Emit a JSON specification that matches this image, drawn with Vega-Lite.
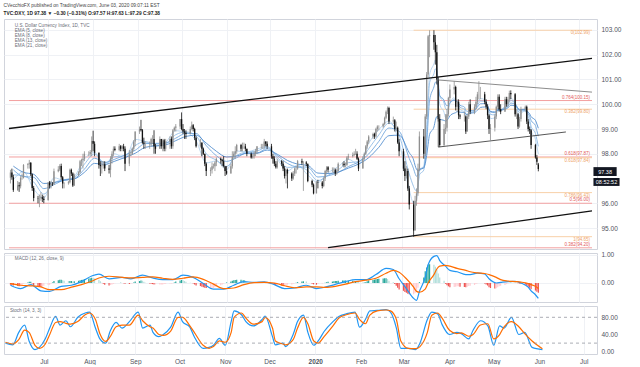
{
"$schema":"https://vega.github.io/schema/vega-lite/v6.json",
"background":"#ffffff",
"padding":{"left":2,"top":2,"right":0,"bottom":0},
"spacing":1,
"config":{"font":"Liberation Sans","view":{"stroke":"#d1d4dc","strokeWidth":1},
"axis":{"labelFont":"Liberation Sans","labelFontSize":6.5,"labelColor":"#50535e","gridColor":"#eff1f5","gridWidth":1,"domainColor":"#b2b5be","labelOverlap":false}},
"title":{"text":"CVecchioFX published on TradingView.com, June 03, 2020 09:07:11 EST","subtitle":"TVC:DXY, 1D  97.38 ▼ −0.30 (−0.31%)  O:97.57  H:97.63  L:97.29  C:97.38","anchor":"start","frame":"bounds","font":"Liberation Sans","fontSize":4.8,"fontWeight":"normal","color":"#444444","subtitleFont":"Liberation Sans","subtitleFontSize":4.8,"subtitleFontWeight":"bold","subtitleColor":"#222222","subtitlePadding":3,"offset":3,"dx":1},
"datasets":{
"px":[
{"d":"2019-06-05","o":97.03,"h":97.35,"l":96.8,"c":97.24,"g":-0.06},
{"d":"2019-06-06","o":97.24,"h":97.4,"l":96.95,"c":97.05,"g":-0.07},
{"d":"2019-06-07","o":97.05,"h":97.15,"l":96.46,"c":96.54,"g":-0.09},
{"d":"2019-06-10","o":96.54,"h":96.9,"l":96.5,"c":96.73,"g":-0.11},
{"d":"2019-06-11","o":96.73,"h":96.85,"l":96.46,"c":96.69,"g":-0.12},
{"d":"2019-06-12","o":96.69,"h":97.1,"l":96.6,"c":97.03,"g":-0.12},
{"d":"2019-06-13","o":97.03,"h":97.2,"l":96.95,"c":97.03,"g":-0.08},
{"d":"2019-06-14","o":97.03,"h":97.58,"l":97.0,"c":97.55,"g":-0.02},
{"d":"2019-06-17","o":97.55,"h":97.62,"l":97.4,"c":97.58,"g":0.02},
{"d":"2019-06-18","o":97.58,"h":97.75,"l":97.4,"c":97.64,"g":0.04},
{"d":"2019-06-19","o":97.64,"h":97.66,"l":97.1,"c":97.17,"g":0.04},
{"d":"2019-06-20","o":97.17,"h":97.2,"l":96.5,"c":96.62,"g":-0.02},
{"d":"2019-06-21","o":96.62,"h":96.7,"l":96.08,"c":96.21,"g":-0.07},
{"d":"2019-06-24","o":96.21,"h":96.3,"l":96.0,"c":96.2,"g":-0.11},
{"d":"2019-06-25","o":96.2,"h":96.35,"l":95.84,"c":96.2,"g":-0.13},
{"d":"2019-06-26","o":96.2,"h":96.45,"l":96.1,"c":96.24,"g":-0.14},
{"d":"2019-06-27","o":96.24,"h":96.35,"l":96.05,"c":96.18,"g":-0.12},
{"d":"2019-06-28","o":96.18,"h":96.3,"l":96.0,"c":96.13,"g":-0.1},
{"d":"2019-07-01","o":96.13,"h":96.85,"l":96.1,"c":96.84,"g":-0.07},
{"d":"2019-07-02","o":96.84,"h":96.9,"l":96.6,"c":96.72,"g":-0.06},
{"d":"2019-07-03","o":96.72,"h":96.9,"l":96.6,"c":96.78,"g":-0.02},
{"d":"2019-07-04","o":96.78,"h":96.85,"l":96.7,"c":96.77,"g":0.02},
{"d":"2019-07-05","o":96.77,"h":97.4,"l":96.75,"c":97.29,"g":0.07},
{"d":"2019-07-08","o":97.29,"h":97.5,"l":97.25,"c":97.36,"g":0.1},
{"d":"2019-07-09","o":97.36,"h":97.58,"l":97.3,"c":97.51,"g":0.12},
{"d":"2019-07-10","o":97.51,"h":97.6,"l":96.95,"c":97.05,"g":0.12},
{"d":"2019-07-11","o":97.05,"h":97.1,"l":96.6,"c":96.8,"g":0.1},
{"d":"2019-07-12","o":96.8,"h":96.85,"l":96.6,"c":96.81,"g":0.08},
{"d":"2019-07-15","o":96.81,"h":96.9,"l":96.75,"c":96.85,"g":0.07},
{"d":"2019-07-16","o":96.85,"h":97.4,"l":96.8,"c":97.35,"g":0.07},
{"d":"2019-07-17","o":97.35,"h":97.4,"l":97.1,"c":97.2,"g":0.07},
{"d":"2019-07-18","o":97.2,"h":97.25,"l":96.66,"c":96.72,"g":0.05},
{"d":"2019-07-19","o":96.72,"h":97.2,"l":96.7,"c":97.15,"g":0.06},
{"d":"2019-07-22","o":97.15,"h":97.3,"l":97.1,"c":97.25,"g":0.08},
{"d":"2019-07-23","o":97.25,"h":97.75,"l":97.2,"c":97.7,"g":0.1},
{"d":"2019-07-24","o":97.7,"h":97.8,"l":97.5,"c":97.75,"g":0.11},
{"d":"2019-07-25","o":97.75,"h":98.0,"l":97.4,"c":97.8,"g":0.12},
{"d":"2019-07-26","o":97.8,"h":98.1,"l":97.7,"c":98.0,"g":0.14},
{"d":"2019-07-29","o":98.0,"h":98.1,"l":97.9,"c":98.0,"g":0.16},
{"d":"2019-07-30","o":98.0,"h":98.15,"l":97.9,"c":98.07,"g":0.17},
{"d":"2019-07-31","o":98.07,"h":98.7,"l":97.9,"c":98.52,"g":0.19},
{"d":"2019-08-01","o":98.52,"h":98.93,"l":98.1,"c":98.4,"g":0.18},
{"d":"2019-08-02","o":98.4,"h":98.5,"l":97.9,"c":98.04,"g":0.16},
{"d":"2019-08-05","o":98.04,"h":98.05,"l":97.4,"c":97.55,"g":0.12},
{"d":"2019-08-06","o":97.55,"h":97.7,"l":97.1,"c":97.5,"g":0.06},
{"d":"2019-08-07","o":97.5,"h":97.7,"l":97.2,"c":97.53,"g":0.01},
{"d":"2019-08-08","o":97.53,"h":97.7,"l":97.4,"c":97.58,"g":-0.03},
{"d":"2019-08-09","o":97.58,"h":97.7,"l":97.3,"c":97.4,"g":-0.06},
{"d":"2019-08-12","o":97.4,"h":97.55,"l":97.2,"c":97.35,"g":-0.09},
{"d":"2019-08-13","o":97.35,"h":97.9,"l":97.05,"c":97.8,"g":-0.07},
{"d":"2019-08-14","o":97.8,"h":98.1,"l":97.6,"c":98.0,"g":-0.05},
{"d":"2019-08-15","o":98.0,"h":98.3,"l":97.9,"c":98.2,"g":-0.03},
{"d":"2019-08-16","o":98.2,"h":98.3,"l":98.1,"c":98.15,"g":-0.01},
{"d":"2019-08-19","o":98.15,"h":98.4,"l":98.1,"c":98.3,"g":0.0},
{"d":"2019-08-20","o":98.3,"h":98.35,"l":98.1,"c":98.2,"g":0.01},
{"d":"2019-08-21","o":98.2,"h":98.35,"l":98.1,"c":98.3,"g":0.0},
{"d":"2019-08-22","o":98.3,"h":98.4,"l":98.1,"c":98.2,"g":-0.01},
{"d":"2019-08-23","o":98.2,"h":98.3,"l":97.3,"c":97.6,"g":-0.03},
{"d":"2019-08-26","o":97.6,"h":98.15,"l":97.5,"c":98.0,"g":-0.04},
{"d":"2019-08-27","o":98.0,"h":98.1,"l":97.9,"c":98.0,"g":-0.03},
{"d":"2019-08-28","o":98.0,"h":98.25,"l":97.95,"c":98.2,"g":-0.01},
{"d":"2019-08-29","o":98.2,"h":98.55,"l":98.1,"c":98.5,"g":0.02},
{"d":"2019-08-30","o":98.5,"h":98.9,"l":98.3,"c":98.9,"g":0.05},
{"d":"2019-09-02","o":98.9,"h":99.1,"l":98.8,"c":99.0,"g":0.07},
{"d":"2019-09-03","o":99.0,"h":99.37,"l":98.9,"c":98.95,"g":0.09},
{"d":"2019-09-04","o":98.95,"h":99.0,"l":98.4,"c":98.45,"g":0.08},
{"d":"2019-09-05","o":98.45,"h":98.65,"l":98.2,"c":98.4,"g":0.04},
{"d":"2019-09-06","o":98.4,"h":98.5,"l":98.2,"c":98.4,"g":0.01},
{"d":"2019-09-09","o":98.4,"h":98.5,"l":98.2,"c":98.4,"g":-0.02},
{"d":"2019-09-10","o":98.4,"h":98.65,"l":98.3,"c":98.6,"g":-0.03},
{"d":"2019-09-11","o":98.6,"h":98.75,"l":98.4,"c":98.6,"g":-0.04},
{"d":"2019-09-12","o":98.6,"h":98.95,"l":98.0,"c":98.3,"g":-0.05},
{"d":"2019-09-13","o":98.3,"h":98.4,"l":98.0,"c":98.2,"g":-0.05},
{"d":"2019-09-16","o":98.2,"h":98.7,"l":98.2,"c":98.6,"g":-0.05},
{"d":"2019-09-17","o":98.6,"h":98.6,"l":98.2,"c":98.3,"g":-0.05},
{"d":"2019-09-18","o":98.3,"h":98.6,"l":98.1,"c":98.55,"g":-0.05},
{"d":"2019-09-19","o":98.55,"h":98.6,"l":98.1,"c":98.2,"g":-0.04},
{"d":"2019-09-20","o":98.2,"h":98.6,"l":98.1,"c":98.5,"g":-0.03},
{"d":"2019-09-23","o":98.5,"h":98.7,"l":98.2,"c":98.6,"g":-0.02},
{"d":"2019-09-24","o":98.6,"h":98.7,"l":98.2,"c":98.3,"g":-0.02},
{"d":"2019-09-25","o":98.3,"h":99.0,"l":98.2,"c":98.95,"g":-0.01},
{"d":"2019-09-26","o":98.95,"h":99.1,"l":98.9,"c":99.05,"g":0.02},
{"d":"2019-09-27","o":99.05,"h":99.2,"l":98.9,"c":99.1,"g":0.05},
{"d":"2019-09-30","o":99.1,"h":99.4,"l":99.0,"c":99.4,"g":0.09},
{"d":"2019-10-01","o":99.4,"h":99.67,"l":98.95,"c":99.0,"g":0.11},
{"d":"2019-10-02","o":99.0,"h":99.2,"l":98.8,"c":98.9,"g":0.1},
{"d":"2019-10-03","o":98.9,"h":99.0,"l":98.6,"c":98.85,"g":0.07},
{"d":"2019-10-04","o":98.85,"h":98.95,"l":98.6,"c":98.8,"g":0.04},
{"d":"2019-10-07","o":98.8,"h":99.1,"l":98.8,"c":99.0,"g":0.01},
{"d":"2019-10-08","o":99.0,"h":99.3,"l":98.95,"c":99.15,"g":0.0},
{"d":"2019-10-09","o":99.15,"h":99.2,"l":98.9,"c":99.0,"g":-0.02},
{"d":"2019-10-10","o":99.0,"h":99.05,"l":98.55,"c":98.65,"g":-0.05},
{"d":"2019-10-11","o":98.65,"h":98.7,"l":98.25,"c":98.3,"g":-0.09},
{"d":"2019-10-14","o":98.3,"h":98.6,"l":98.25,"c":98.45,"g":-0.11},
{"d":"2019-10-15","o":98.45,"h":98.45,"l":97.9,"c":98.2,"g":-0.13},
{"d":"2019-10-16","o":98.2,"h":98.25,"l":97.95,"c":98.0,"g":-0.15},
{"d":"2019-10-17","o":98.0,"h":98.0,"l":97.5,"c":97.6,"g":-0.17},
{"d":"2019-10-18","o":97.6,"h":97.65,"l":97.1,"c":97.3,"g":-0.18},
{"d":"2019-10-21","o":97.3,"h":97.45,"l":97.1,"c":97.35,"g":-0.18},
{"d":"2019-10-22","o":97.35,"h":97.65,"l":97.2,"c":97.5,"g":-0.18},
{"d":"2019-10-23","o":97.5,"h":97.6,"l":97.4,"c":97.5,"g":-0.18},
{"d":"2019-10-24","o":97.5,"h":97.7,"l":97.3,"c":97.65,"g":-0.15},
{"d":"2019-10-25","o":97.65,"h":97.85,"l":97.5,"c":97.8,"g":-0.12},
{"d":"2019-10-28","o":97.8,"h":97.85,"l":97.6,"c":97.75,"g":-0.08},
{"d":"2019-10-29","o":97.75,"h":97.8,"l":97.5,"c":97.7,"g":-0.05},
{"d":"2019-10-30","o":97.7,"h":97.9,"l":97.45,"c":97.5,"g":-0.02},
{"d":"2019-10-31","o":97.5,"h":97.5,"l":97.1,"c":97.3,"g":0.0},
{"d":"2019-11-01","o":97.3,"h":97.5,"l":97.15,"c":97.2,"g":0.02},
{"d":"2019-11-04","o":97.2,"h":97.6,"l":97.2,"c":97.5,"g":0.05},
{"d":"2019-11-05","o":97.5,"h":98.1,"l":97.4,"c":97.9,"g":0.08},
{"d":"2019-11-06","o":97.9,"h":98.1,"l":97.8,"c":98.0,"g":0.1},
{"d":"2019-11-07","o":98.0,"h":98.3,"l":97.8,"c":98.1,"g":0.11},
{"d":"2019-11-08","o":98.1,"h":98.4,"l":98.0,"c":98.35,"g":0.12},
{"d":"2019-11-11","o":98.35,"h":98.4,"l":98.1,"c":98.2,"g":0.12},
{"d":"2019-11-12","o":98.2,"h":98.45,"l":98.1,"c":98.3,"g":0.11},
{"d":"2019-11-13","o":98.3,"h":98.45,"l":98.2,"c":98.3,"g":0.11},
{"d":"2019-11-14","o":98.3,"h":98.4,"l":98.1,"c":98.2,"g":0.08},
{"d":"2019-11-15","o":98.2,"h":98.2,"l":97.9,"c":98.0,"g":0.05},
{"d":"2019-11-18","o":98.0,"h":98.05,"l":97.8,"c":97.85,"g":0.02},
{"d":"2019-11-19","o":97.85,"h":98.0,"l":97.8,"c":97.9,"g":0.01},
{"d":"2019-11-20","o":97.9,"h":98.1,"l":97.8,"c":98.0,"g":0.01},
{"d":"2019-11-21","o":98.0,"h":98.2,"l":97.9,"c":98.1,"g":0.01},
{"d":"2019-11-22","o":98.1,"h":98.3,"l":98.0,"c":98.3,"g":0.02},
{"d":"2019-11-25","o":98.3,"h":98.4,"l":98.2,"c":98.3,"g":0.02},
{"d":"2019-11-26","o":98.3,"h":98.4,"l":98.2,"c":98.3,"g":0.02},
{"d":"2019-11-27","o":98.3,"h":98.6,"l":98.2,"c":98.5,"g":0.02},
{"d":"2019-11-28","o":98.5,"h":98.5,"l":98.3,"c":98.4,"g":0.02},
{"d":"2019-11-29","o":98.4,"h":98.5,"l":98.2,"c":98.3,"g":0.01},
{"d":"2019-12-02","o":98.3,"h":98.4,"l":97.8,"c":97.9,"g":-0.02},
{"d":"2019-12-03","o":97.9,"h":98.0,"l":97.6,"c":97.8,"g":-0.04},
{"d":"2019-12-04","o":97.8,"h":97.9,"l":97.5,"c":97.6,"g":-0.06},
{"d":"2019-12-05","o":97.6,"h":97.7,"l":97.4,"c":97.45,"g":-0.08},
{"d":"2019-12-06","o":97.45,"h":97.8,"l":97.4,"c":97.7,"g":-0.08},
{"d":"2019-12-09","o":97.7,"h":97.75,"l":97.5,"c":97.6,"g":-0.09},
{"d":"2019-12-10","o":97.6,"h":97.7,"l":97.3,"c":97.4,"g":-0.1},
{"d":"2019-12-11","o":97.4,"h":97.5,"l":97.0,"c":97.1,"g":-0.1},
{"d":"2019-12-12","o":97.1,"h":97.4,"l":96.8,"c":97.35,"g":-0.08},
{"d":"2019-12-13","o":97.35,"h":97.4,"l":96.6,"c":97.2,"g":-0.06},
{"d":"2019-12-16","o":97.2,"h":97.25,"l":96.9,"c":97.0,"g":-0.05},
{"d":"2019-12-17","o":97.0,"h":97.3,"l":96.95,"c":97.2,"g":-0.03},
{"d":"2019-12-18","o":97.2,"h":97.45,"l":97.1,"c":97.4,"g":-0.01},
{"d":"2019-12-19","o":97.4,"h":97.5,"l":97.2,"c":97.4,"g":0.01},
{"d":"2019-12-20","o":97.4,"h":97.75,"l":97.35,"c":97.7,"g":0.03},
{"d":"2019-12-23","o":97.7,"h":97.8,"l":97.55,"c":97.65,"g":0.05},
{"d":"2019-12-24","o":97.65,"h":97.7,"l":96.5,"c":97.65,"g":0.06},
{"d":"2019-12-26","o":97.65,"h":97.7,"l":97.5,"c":97.6,"g":0.05},
{"d":"2019-12-27","o":97.6,"h":97.6,"l":96.85,"c":96.9,"g":0.0},
{"d":"2019-12-30","o":96.9,"h":96.95,"l":96.65,"c":96.75,"g":-0.03},
{"d":"2019-12-31","o":96.75,"h":96.8,"l":96.36,"c":96.4,"g":-0.05},
{"d":"2020-01-02","o":96.4,"h":96.9,"l":96.4,"c":96.85,"g":-0.06},
{"d":"2020-01-03","o":96.85,"h":96.95,"l":96.6,"c":96.84,"g":-0.04},
{"d":"2020-01-06","o":96.84,"h":96.9,"l":96.6,"c":96.7,"g":-0.02},
{"d":"2020-01-07","o":96.7,"h":97.05,"l":96.65,"c":97.0,"g":0.0},
{"d":"2020-01-08","o":97.0,"h":97.35,"l":96.9,"c":97.3,"g":0.01},
{"d":"2020-01-09","o":97.3,"h":97.5,"l":97.2,"c":97.45,"g":0.03},
{"d":"2020-01-10","o":97.45,"h":97.5,"l":97.25,"c":97.35,"g":0.04},
{"d":"2020-01-13","o":97.35,"h":97.45,"l":97.25,"c":97.35,"g":0.05},
{"d":"2020-01-14","o":97.35,"h":97.45,"l":97.2,"c":97.35,"g":0.06},
{"d":"2020-01-15","o":97.35,"h":97.4,"l":97.1,"c":97.2,"g":0.07},
{"d":"2020-01-16","o":97.2,"h":97.4,"l":97.15,"c":97.3,"g":0.07},
{"d":"2020-01-17","o":97.3,"h":97.65,"l":97.25,"c":97.6,"g":0.08},
{"d":"2020-01-20","o":97.6,"h":97.65,"l":97.5,"c":97.6,"g":0.09},
{"d":"2020-01-21","o":97.6,"h":97.7,"l":97.45,"c":97.55,"g":0.09},
{"d":"2020-01-22","o":97.55,"h":97.65,"l":97.45,"c":97.55,"g":0.09},
{"d":"2020-01-23","o":97.55,"h":97.9,"l":97.5,"c":97.85,"g":0.08},
{"d":"2020-01-24","o":97.85,"h":98.0,"l":97.75,"c":97.9,"g":0.08},
{"d":"2020-01-27","o":97.9,"h":98.05,"l":97.85,"c":97.95,"g":0.08},
{"d":"2020-01-28","o":97.95,"h":98.1,"l":97.9,"c":98.0,"g":0.07},
{"d":"2020-01-29","o":98.0,"h":98.2,"l":97.95,"c":98.0,"g":0.07},
{"d":"2020-01-30","o":98.0,"h":98.1,"l":97.75,"c":97.8,"g":0.05},
{"d":"2020-01-31","o":97.8,"h":97.85,"l":97.3,"c":97.4,"g":0.03},
{"d":"2020-02-03","o":97.4,"h":97.9,"l":97.4,"c":97.8,"g":0.02},
{"d":"2020-02-04","o":97.8,"h":98.05,"l":97.75,"c":98.0,"g":0.02},
{"d":"2020-02-05","o":98.0,"h":98.35,"l":97.95,"c":98.3,"g":0.03},
{"d":"2020-02-06","o":98.3,"h":98.55,"l":98.2,"c":98.5,"g":0.06},
{"d":"2020-02-07","o":98.5,"h":98.75,"l":98.4,"c":98.7,"g":0.09},
{"d":"2020-02-10","o":98.7,"h":98.85,"l":98.6,"c":98.8,"g":0.11},
{"d":"2020-02-11","o":98.8,"h":98.85,"l":98.6,"c":98.7,"g":0.12},
{"d":"2020-02-12","o":98.7,"h":99.05,"l":98.65,"c":99.0,"g":0.13},
{"d":"2020-02-13","o":99.0,"h":99.15,"l":98.9,"c":99.1,"g":0.14},
{"d":"2020-02-14","o":99.1,"h":99.15,"l":98.95,"c":99.1,"g":0.15},
{"d":"2020-02-17","o":99.1,"h":99.25,"l":99.05,"c":99.2,"g":0.16},
{"d":"2020-02-18","o":99.2,"h":99.5,"l":99.15,"c":99.45,"g":0.17},
{"d":"2020-02-19","o":99.45,"h":99.75,"l":99.4,"c":99.7,"g":0.17},
{"d":"2020-02-20","o":99.7,"h":99.91,"l":99.6,"c":99.85,"g":0.14},
{"d":"2020-02-21","o":99.85,"h":99.9,"l":99.2,"c":99.3,"g":0.08},
{"d":"2020-02-24","o":99.3,"h":99.5,"l":99.2,"c":99.35,"g":0.03},
{"d":"2020-02-25","o":99.35,"h":99.4,"l":98.9,"c":99.0,"g":-0.04},
{"d":"2020-02-26","o":99.0,"h":99.3,"l":98.9,"c":99.05,"g":-0.1},
{"d":"2020-02-27","o":99.05,"h":99.1,"l":98.4,"c":98.45,"g":-0.17},
{"d":"2020-02-28","o":98.45,"h":98.6,"l":97.9,"c":98.1,"g":-0.23},
{"d":"2020-03-02","o":98.1,"h":98.2,"l":97.3,"c":97.4,"g":-0.28},
{"d":"2020-03-03","o":97.4,"h":97.7,"l":96.9,"c":97.1,"g":-0.32},
{"d":"2020-03-04","o":97.1,"h":97.5,"l":97.0,"c":97.3,"g":-0.35},
{"d":"2020-03-05","o":97.3,"h":97.4,"l":96.5,"c":96.6,"g":-0.38},
{"d":"2020-03-06","o":96.6,"h":96.7,"l":95.75,"c":95.95,"g":-0.4},
{"d":"2020-03-09","o":95.95,"h":96.1,"l":94.65,"c":94.9,"g":-0.4},
{"d":"2020-03-10","o":94.9,"h":96.3,"l":94.9,"c":96.1,"g":-0.36},
{"d":"2020-03-11","o":96.1,"h":96.6,"l":95.9,"c":96.4,"g":-0.32},
{"d":"2020-03-12","o":96.4,"h":97.6,"l":96.3,"c":97.4,"g":-0.17},
{"d":"2020-03-13","o":97.4,"h":98.9,"l":97.3,"c":98.7,"g":0.03},
{"d":"2020-03-16","o":98.7,"h":99.0,"l":97.8,"c":98.0,"g":0.2},
{"d":"2020-03-17","o":98.0,"h":99.6,"l":97.9,"c":99.5,"g":0.42},
{"d":"2020-03-18","o":99.5,"h":101.3,"l":99.4,"c":101.2,"g":0.55},
{"d":"2020-03-19","o":101.2,"h":102.8,"l":101.1,"c":102.75,"g":0.65},
{"d":"2020-03-20","o":102.75,"h":102.99,"l":101.9,"c":102.8,"g":0.67},
{"d":"2020-03-23","o":102.8,"h":102.99,"l":102.2,"c":102.5,"g":0.65},
{"d":"2020-03-24","o":102.5,"h":102.8,"l":101.6,"c":102.1,"g":0.58},
{"d":"2020-03-25","o":102.1,"h":102.4,"l":100.8,"c":101.0,"g":0.48},
{"d":"2020-03-26","o":101.0,"h":101.1,"l":99.3,"c":99.4,"g":0.34},
{"d":"2020-03-27","o":99.4,"h":99.6,"l":98.27,"c":98.35,"g":0.2},
{"d":"2020-03-30","o":98.35,"h":99.2,"l":98.3,"c":99.0,"g":0.08},
{"d":"2020-03-31","o":99.0,"h":99.6,"l":98.8,"c":99.05,"g":-0.03},
{"d":"2020-04-01","o":99.05,"h":99.8,"l":98.9,"c":99.6,"g":-0.08},
{"d":"2020-04-02","o":99.6,"h":100.3,"l":99.5,"c":100.25,"g":-0.12},
{"d":"2020-04-03","o":100.25,"h":100.8,"l":100.1,"c":100.6,"g":-0.15},
{"d":"2020-04-06","o":100.6,"h":100.94,"l":100.4,"c":100.7,"g":-0.14},
{"d":"2020-04-07","o":100.7,"h":100.75,"l":99.75,"c":99.9,"g":-0.13},
{"d":"2020-04-08","o":99.9,"h":100.2,"l":99.7,"c":100.1,"g":-0.12},
{"d":"2020-04-09","o":100.1,"h":100.2,"l":99.4,"c":99.55,"g":-0.12},
{"d":"2020-04-10","o":99.55,"h":99.6,"l":99.4,"c":99.5,"g":-0.13},
{"d":"2020-04-13","o":99.5,"h":99.7,"l":99.3,"c":99.5,"g":-0.14},
{"d":"2020-04-14","o":99.5,"h":99.55,"l":98.8,"c":98.9,"g":-0.15},
{"d":"2020-04-15","o":98.9,"h":99.6,"l":98.9,"c":99.5,"g":-0.13},
{"d":"2020-04-16","o":99.5,"h":100.1,"l":99.4,"c":100.0,"g":-0.11},
{"d":"2020-04-17","o":100.0,"h":100.2,"l":99.6,"c":99.7,"g":-0.1},
{"d":"2020-04-20","o":99.7,"h":100.0,"l":99.6,"c":99.9,"g":-0.07},
{"d":"2020-04-21","o":99.9,"h":100.3,"l":99.8,"c":100.1,"g":-0.04},
{"d":"2020-04-22","o":100.1,"h":100.5,"l":100.0,"c":100.4,"g":-0.01},
{"d":"2020-04-23","o":100.4,"h":100.93,"l":100.2,"c":100.4,"g":0.0},
{"d":"2020-04-24","o":100.4,"h":100.7,"l":100.2,"c":100.4,"g":0.0},
{"d":"2020-04-27","o":100.4,"h":100.5,"l":100.0,"c":100.1,"g":-0.02},
{"d":"2020-04-28","o":100.1,"h":100.2,"l":99.8,"c":99.9,"g":-0.05},
{"d":"2020-04-29","o":99.9,"h":100.0,"l":99.4,"c":99.55,"g":-0.09},
{"d":"2020-04-30","o":99.55,"h":99.6,"l":98.8,"c":99.0,"g":-0.15},
{"d":"2020-05-01","o":99.0,"h":99.2,"l":98.55,"c":99.05,"g":-0.18},
{"d":"2020-05-04","o":99.05,"h":99.6,"l":98.9,"c":99.5,"g":-0.2},
{"d":"2020-05-05","o":99.5,"h":99.95,"l":99.4,"c":99.9,"g":-0.19},
{"d":"2020-05-06","o":99.9,"h":100.4,"l":99.8,"c":100.3,"g":-0.15},
{"d":"2020-05-07","o":100.3,"h":100.4,"l":99.7,"c":99.8,"g":-0.12},
{"d":"2020-05-08","o":99.8,"h":100.0,"l":99.6,"c":99.7,"g":-0.1},
{"d":"2020-05-11","o":99.7,"h":100.3,"l":99.7,"c":100.2,"g":-0.07},
{"d":"2020-05-12","o":100.2,"h":100.3,"l":99.9,"c":100.0,"g":-0.04},
{"d":"2020-05-13","o":100.0,"h":100.3,"l":99.9,"c":100.2,"g":-0.02},
{"d":"2020-05-14","o":100.2,"h":100.55,"l":100.1,"c":100.45,"g":0.0},
{"d":"2020-05-15","o":100.45,"h":100.56,"l":100.2,"c":100.4,"g":0.01},
{"d":"2020-05-18","o":100.4,"h":100.45,"l":99.5,"c":99.6,"g":0.01},
{"d":"2020-05-19","o":99.6,"h":99.8,"l":99.4,"c":99.6,"g":0.0},
{"d":"2020-05-20","o":99.6,"h":99.65,"l":99.0,"c":99.1,"g":-0.01},
{"d":"2020-05-21","o":99.1,"h":99.5,"l":99.05,"c":99.4,"g":-0.02},
{"d":"2020-05-22","o":99.4,"h":99.9,"l":99.3,"c":99.8,"g":-0.03},
{"d":"2020-05-25","o":99.8,"h":99.95,"l":99.7,"c":99.9,"g":-0.05},
{"d":"2020-05-26","o":99.9,"h":99.95,"l":99.2,"c":99.3,"g":-0.09},
{"d":"2020-05-27","o":99.3,"h":99.4,"l":98.9,"c":99.0,"g":-0.13},
{"d":"2020-05-28","o":99.0,"h":99.1,"l":98.8,"c":98.95,"g":-0.17},
{"d":"2020-05-29","o":98.95,"h":99.0,"l":98.2,"c":98.35,"g":-0.22},
{"d":"2020-06-01","o":98.35,"h":98.4,"l":97.8,"c":97.85,"g":-0.27},
{"d":"2020-06-02","o":97.85,"h":97.95,"l":97.55,"c":97.68,"g":-0.31},
{"d":"2020-06-03","o":97.57,"h":97.63,"l":97.29,"c":97.38,"g":-0.35}
],
"ema":[
{"d":"2019-06-07","e5":96.95,"e8":97.15,"e13":97.35,"e21":97.5},
{"d":"2019-06-14","e5":97.27,"e8":97.1,"e13":97.08,"e21":97.25},
{"d":"2019-06-21","e5":96.58,"e8":96.86,"e13":97.05,"e21":97.17},
{"d":"2019-06-28","e5":96.21,"e8":96.37,"e13":96.59,"e21":96.8},
{"d":"2019-07-05","e5":97.03,"e8":96.83,"e13":96.75,"e21":96.83},
{"d":"2019-07-12","e5":96.93,"e8":96.95,"e13":96.94,"e21":96.93},
{"d":"2019-07-19","e5":97.09,"e8":97.04,"e13":97.0,"e21":96.98},
{"d":"2019-07-26","e5":97.79,"e8":97.58,"e13":97.38,"e21":97.25},
{"d":"2019-08-02","e5":98.05,"e8":97.99,"e13":97.82,"e21":97.61},
{"d":"2019-08-09","e5":97.51,"e8":97.62,"e13":97.65,"e21":97.57},
{"d":"2019-08-16","e5":98.0,"e8":97.88,"e13":97.78,"e21":97.7},
{"d":"2019-08-23","e5":97.8,"e8":97.92,"e13":97.95,"e21":97.85},
{"d":"2019-08-30","e5":98.58,"e8":98.33,"e13":98.14,"e21":98.02},
{"d":"2019-09-06","e5":98.49,"e8":98.49,"e13":98.41,"e21":98.26},
{"d":"2019-09-13","e5":98.3,"e8":98.39,"e13":98.42,"e21":98.32},
{"d":"2019-09-20","e5":98.46,"e8":98.43,"e13":98.43,"e21":98.36},
{"d":"2019-09-27","e5":98.93,"e8":98.77,"e13":98.63,"e21":98.53},
{"d":"2019-10-04","e5":98.87,"e8":98.88,"e13":98.82,"e21":98.7},
{"d":"2019-10-11","e5":98.52,"e8":98.72,"e13":98.82,"e21":98.75},
{"d":"2019-10-18","e5":97.63,"e8":98.0,"e13":98.33,"e21":98.43},
{"d":"2019-10-25","e5":97.71,"e8":97.74,"e13":97.92,"e21":98.1},
{"d":"2019-11-01","e5":97.35,"e8":97.49,"e13":97.69,"e21":97.87},
{"d":"2019-11-08","e5":98.11,"e8":97.93,"e13":97.84,"e21":97.91},
{"d":"2019-11-15","e5":98.08,"e8":98.07,"e13":98.03,"e21":98.02},
{"d":"2019-11-22","e5":98.19,"e8":98.11,"e13":98.03,"e21":98.02},
{"d":"2019-11-29","e5":98.3,"e8":98.27,"e13":98.21,"e21":98.15},
{"d":"2019-12-06","e5":97.78,"e8":97.86,"e13":97.93,"e21":97.98},
{"d":"2019-12-13","e5":97.31,"e8":97.45,"e13":97.61,"e21":97.73},
{"d":"2019-12-20","e5":97.54,"e8":97.46,"e13":97.47,"e21":97.58},
{"d":"2019-12-27","e5":97.14,"e8":97.32,"e13":97.46,"e21":97.53},
{"d":"2020-01-03","e5":96.84,"e8":96.91,"e13":97.06,"e21":97.22},
{"d":"2020-01-10","e5":97.23,"e8":97.13,"e13":97.11,"e21":97.2},
{"d":"2020-01-17","e5":97.48,"e8":97.35,"e13":97.24,"e21":97.26},
{"d":"2020-01-24","e5":97.78,"e8":97.64,"e13":97.48,"e21":97.42},
{"d":"2020-01-31","e5":97.57,"e8":97.68,"e13":97.67,"e21":97.58},
{"d":"2020-02-07","e5":98.42,"e8":98.2,"e13":97.99,"e21":97.84},
{"d":"2020-02-14","e5":98.97,"e8":98.76,"e13":98.5,"e21":98.26},
{"d":"2020-02-21","e5":99.32,"e8":99.24,"e13":99.04,"e21":98.73},
{"d":"2020-02-28","e5":98.46,"e8":98.75,"e13":98.91,"e21":98.75},
{"d":"2020-03-06","e5":96.55,"e8":97.18,"e13":97.81,"e21":98.04},
{"d":"2020-03-09","e5":96.0,"e8":96.67,"e13":97.39,"e21":97.75},
{"d":"2020-03-10","e5":96.03,"e8":96.54,"e13":97.2,"e21":97.53},
{"d":"2020-03-11","e5":96.15,"e8":96.51,"e13":97.09,"e21":97.37},
{"d":"2020-03-12","e5":96.57,"e8":96.72,"e13":97.13,"e21":97.31},
{"d":"2020-03-13","e5":97.28,"e8":97.15,"e13":97.37,"e21":97.36},
{"d":"2020-03-16","e5":97.52,"e8":97.34,"e13":97.46,"e21":97.42},
{"d":"2020-03-17","e5":98.18,"e8":97.83,"e13":97.73,"e21":97.6},
{"d":"2020-03-18","e5":99.19,"e8":98.78,"e13":98.38,"e21":97.93},
{"d":"2020-03-19","e5":100.38,"e8":99.91,"e13":99.33,"e21":98.38},
{"d":"2020-03-20","e5":101.19,"e8":100.87,"e13":100.15,"e21":98.78},
{"d":"2020-03-23","e5":101.63,"e8":101.23,"e13":100.7,"e21":99.08},
{"d":"2020-03-24","e5":101.79,"e8":101.43,"e13":100.89,"e21":99.35},
{"d":"2020-03-25","e5":101.53,"e8":101.34,"e13":100.9,"e21":99.5},
{"d":"2020-03-26","e5":100.82,"e8":100.91,"e13":100.69,"e21":99.49},
{"d":"2020-03-27","e5":100.0,"e8":100.34,"e13":100.35,"e21":99.39},
{"d":"2020-03-30","e5":99.67,"e8":100.05,"e13":100.16,"e21":99.35},
{"d":"2020-03-31","e5":99.46,"e8":99.83,"e13":100.0,"e21":99.32},
{"d":"2020-04-01","e5":99.51,"e8":99.78,"e13":99.94,"e21":99.35},
{"d":"2020-04-02","e5":99.76,"e8":99.87,"e13":99.98,"e21":99.43},
{"d":"2020-04-03","e5":100.04,"e8":100.03,"e13":100.07,"e21":99.53},
{"d":"2020-04-06","e5":100.26,"e8":100.18,"e13":100.16,"e21":99.64},
{"d":"2020-04-07","e5":100.14,"e8":100.12,"e13":100.12,"e21":99.66},
{"d":"2020-04-08","e5":100.13,"e8":100.11,"e13":100.12,"e21":99.7},
{"d":"2020-04-09","e5":99.94,"e8":99.99,"e13":100.04,"e21":99.69},
{"d":"2020-04-10","e5":99.79,"e8":99.88,"e13":99.96,"e21":99.68},
{"d":"2020-04-13","e5":99.69,"e8":99.8,"e13":99.89,"e21":99.67},
{"d":"2020-04-14","e5":99.43,"e8":99.6,"e13":99.75,"e21":99.6},
{"d":"2020-04-15","e5":99.45,"e8":99.58,"e13":99.71,"e21":99.59},
{"d":"2020-04-16","e5":99.63,"e8":99.67,"e13":99.75,"e21":99.63},
{"d":"2020-04-17","e5":99.65,"e8":99.68,"e13":99.74,"e21":99.64},
{"d":"2020-04-20","e5":99.73,"e8":99.73,"e13":99.76,"e21":99.66},
{"d":"2020-04-21","e5":99.85,"e8":99.82,"e13":99.81,"e21":99.7},
{"d":"2020-04-22","e5":100.03,"e8":99.95,"e13":99.89,"e21":99.76},
{"d":"2020-04-23","e5":100.15,"e8":100.05,"e13":99.96,"e21":99.82},
{"d":"2020-04-24","e5":100.23,"e8":100.13,"e13":100.02,"e21":99.87},
{"d":"2020-04-27","e5":100.19,"e8":100.12,"e13":100.03,"e21":99.89},
{"d":"2020-04-28","e5":100.09,"e8":100.07,"e13":100.01,"e21":99.89},
{"d":"2020-04-29","e5":99.91,"e8":99.95,"e13":99.94,"e21":99.86},
{"d":"2020-04-30","e5":99.61,"e8":99.74,"e13":99.8,"e21":99.78},
{"d":"2020-05-01","e5":99.42,"e8":99.59,"e13":99.69,"e21":99.71},
{"d":"2020-05-04","e5":99.45,"e8":99.57,"e13":99.66,"e21":99.69},
{"d":"2020-05-05","e5":99.6,"e8":99.63,"e13":99.7,"e21":99.71},
{"d":"2020-05-06","e5":99.83,"e8":99.78,"e13":99.79,"e21":99.76},
{"d":"2020-05-07","e5":99.82,"e8":99.78,"e13":99.79,"e21":99.77},
{"d":"2020-05-08","e5":99.78,"e8":99.76,"e13":99.78,"e21":99.76},
{"d":"2020-05-11","e5":99.92,"e8":99.86,"e13":99.84,"e21":99.8},
{"d":"2020-05-12","e5":99.95,"e8":99.89,"e13":99.86,"e21":99.82},
{"d":"2020-05-13","e5":100.03,"e8":99.96,"e13":99.91,"e21":99.86},
{"d":"2020-05-14","e5":100.17,"e8":100.08,"e13":99.99,"e21":99.91},
{"d":"2020-05-15","e5":100.25,"e8":100.15,"e13":100.05,"e21":99.96},
{"d":"2020-05-18","e5":100.03,"e8":100.03,"e13":99.99,"e21":99.93},
{"d":"2020-05-19","e5":99.89,"e8":99.94,"e13":99.93,"e21":99.9},
{"d":"2020-05-20","e5":99.63,"e8":99.73,"e13":99.81,"e21":99.83},
{"d":"2020-05-21","e5":99.55,"e8":99.68,"e13":99.75,"e21":99.79},
{"d":"2020-05-22","e5":99.63,"e8":99.71,"e13":99.76,"e21":99.79},
{"d":"2020-05-25","e5":99.72,"e8":99.75,"e13":99.78,"e21":99.8},
{"d":"2020-05-26","e5":99.58,"e8":99.65,"e13":99.71,"e21":99.75},
{"d":"2020-05-27","e5":99.39,"e8":99.51,"e13":99.61,"e21":99.68},
{"d":"2020-05-28","e5":99.24,"e8":99.37,"e13":99.52,"e21":99.61},
{"d":"2020-05-29","e5":98.94,"e8":99.11,"e13":99.35,"e21":99.5},
{"d":"2020-06-01","e5":98.58,"e8":98.82,"e13":99.14,"e21":99.35},
{"d":"2020-06-02","e5":98.29,"e8":98.57,"e13":98.93,"e21":99.2},
{"d":"2020-06-03","e5":97.99,"e8":98.3,"e13":98.71,"e21":99.03}
],
"md":[
{"d":"2019-06-05","m":-0.08,"s":-0.02},{"d":"2019-06-12","m":-0.2,"s":-0.08},{"d":"2019-06-19","m":-0.06,"s":-0.1},{"d":"2019-06-26","m":-0.28,"s":-0.14},{"d":"2019-07-02","m":-0.3,"s":-0.24},{"d":"2019-07-10","m":-0.12,"s":-0.24},{"d":"2019-07-17","m":-0.08,"s":-0.15},{"d":"2019-07-24","m":0.05,"s":-0.06},{"d":"2019-07-31","m":0.25,"s":0.06},{"d":"2019-08-05","m":0.32,"s":0.18},{"d":"2019-08-12","m":0.15,"s":0.24},{"d":"2019-08-21","m":0.2,"s":0.2},{"d":"2019-08-27","m":0.15,"s":0.18},{"d":"2019-09-04","m":0.28,"s":0.2},{"d":"2019-09-11","m":0.18,"s":0.22},{"d":"2019-09-18","m":0.12,"s":0.17},{"d":"2019-09-25","m":0.12,"s":0.13},{"d":"2019-10-02","m":0.28,"s":0.17},{"d":"2019-10-09","m":0.2,"s":0.22},{"d":"2019-10-16","m":-0.02,"s":0.13},{"d":"2019-10-23","m":-0.22,"s":-0.04},{"d":"2019-10-30","m":-0.22,"s":-0.2},{"d":"2019-11-06","m":-0.08,"s":-0.18},{"d":"2019-11-13","m":0.05,"s":-0.06},{"d":"2019-11-20","m":0.02,"s":0.01},{"d":"2019-11-27","m":0.04,"s":0.02},{"d":"2019-12-04","m":-0.06,"s":0.0},{"d":"2019-12-11","m":-0.2,"s":-0.1},{"d":"2019-12-18","m":-0.18,"s":-0.17},{"d":"2019-12-26","m":-0.08,"s":-0.14},{"d":"2020-01-02","m":-0.2,"s":-0.14},{"d":"2020-01-08","m":-0.15,"s":-0.16},{"d":"2020-01-15","m":-0.05,"s":-0.12},{"d":"2020-01-22","m":0.05,"s":-0.04},{"d":"2020-01-29","m":0.12,"s":0.05},{"d":"2020-02-05","m":0.12,"s":0.1},{"d":"2020-02-12","m":0.3,"s":0.17},{"d":"2020-02-19","m":0.52,"s":0.35},{"d":"2020-02-24","m":0.48,"s":0.45},{"d":"2020-02-28","m":0.15,"s":0.38},{"d":"2020-03-04","m":-0.2,"s":0.15},{"d":"2020-03-09","m":-0.55,"s":-0.15},{"d":"2020-03-11","m":-0.62,"s":-0.3},{"d":"2020-03-13","m":-0.3,"s":-0.33},{"d":"2020-03-17","m":0.2,"s":-0.22},{"d":"2020-03-19","m":0.65,"s":0.0},{"d":"2020-03-23","m":0.95,"s":0.3},{"d":"2020-03-25","m":0.98,"s":0.5},{"d":"2020-03-27","m":0.8,"s":0.6},{"d":"2020-03-31","m":0.6,"s":0.63},{"d":"2020-04-03","m":0.45,"s":0.6},{"d":"2020-04-08","m":0.4,"s":0.52},{"d":"2020-04-14","m":0.3,"s":0.45},{"d":"2020-04-17","m":0.3,"s":0.4},{"d":"2020-04-22","m":0.35,"s":0.36},{"d":"2020-04-27","m":0.32,"s":0.34},{"d":"2020-04-30","m":0.15,"s":0.3},{"d":"2020-05-05","m":0.0,"s":0.2},{"d":"2020-05-08","m":0.02,"s":0.12},{"d":"2020-05-13","m":0.05,"s":0.07},{"d":"2020-05-18","m":0.06,"s":0.05},{"d":"2020-05-22","m":0.0,"s":0.03},{"d":"2020-05-27","m":-0.15,"s":-0.02},{"d":"2020-05-29","m":-0.28,"s":-0.06},{"d":"2020-06-01","m":-0.42,"s":-0.12},{"d":"2020-06-03","m":-0.55,"s":-0.2}
],
"st":[
{"d":"2019-06-05","k":20,"kd":22},{"d":"2019-06-10","k":16,"kd":18},{"d":"2019-06-14","k":45,"kd":28},{"d":"2019-06-18","k":62,"kd":50},{"d":"2019-06-21","k":25,"kd":45},{"d":"2019-06-25","k":5,"kd":15},{"d":"2019-06-28","k":10,"kd":8},{"d":"2019-07-02","k":30,"kd":18},{"d":"2019-07-05","k":55,"kd":40},{"d":"2019-07-09","k":82,"kd":68},{"d":"2019-07-12","k":62,"kd":70},{"d":"2019-07-16","k":72,"kd":66},{"d":"2019-07-19","k":58,"kd":64},{"d":"2019-07-24","k":80,"kd":70},{"d":"2019-07-29","k":90,"kd":86},{"d":"2019-08-01","k":92,"kd":90},{"d":"2019-08-05","k":55,"kd":75},{"d":"2019-08-08","k":30,"kd":42},{"d":"2019-08-12","k":20,"kd":24},{"d":"2019-08-15","k":48,"kd":35},{"d":"2019-08-19","k":68,"kd":58},{"d":"2019-08-23","k":55,"kd":62},{"d":"2019-08-28","k":70,"kd":62},{"d":"2019-09-03","k":92,"kd":85},{"d":"2019-09-06","k":55,"kd":72},{"d":"2019-09-11","k":62,"kd":58},{"d":"2019-09-13","k":45,"kd":55},{"d":"2019-09-17","k":35,"kd":40},{"d":"2019-09-20","k":40,"kd":38},{"d":"2019-09-25","k":57,"kd":48},{"d":"2019-09-30","k":92,"kd":80},{"d":"2019-10-03","k":70,"kd":80},{"d":"2019-10-08","k":57,"kd":60},{"d":"2019-10-11","k":35,"kd":45},{"d":"2019-10-17","k":8,"kd":15},{"d":"2019-10-21","k":10,"kd":8},{"d":"2019-10-24","k":15,"kd":12},{"d":"2019-10-28","k":31,"kd":25},{"d":"2019-11-01","k":15,"kd":22},{"d":"2019-11-05","k":70,"kd":45},{"d":"2019-11-07","k":95,"kd":80},{"d":"2019-11-12","k":86,"kd":90},{"d":"2019-11-15","k":70,"kd":78},{"d":"2019-11-20","k":60,"kd":64},{"d":"2019-11-26","k":75,"kd":70},{"d":"2019-11-28","k":83,"kd":80},{"d":"2019-12-03","k":35,"kd":55},{"d":"2019-12-05","k":16,"kd":25},{"d":"2019-12-10","k":20,"kd":18},{"d":"2019-12-12","k":12,"kd":16},{"d":"2019-12-17","k":40,"kd":28},{"d":"2019-12-20","k":70,"kd":55},{"d":"2019-12-24","k":85,"kd":80},{"d":"2019-12-27","k":45,"kd":65},{"d":"2019-12-31","k":15,"kd":25},{"d":"2020-01-03","k":25,"kd":20},{"d":"2020-01-07","k":47,"kd":35},{"d":"2020-01-13","k":70,"kd":60},{"d":"2020-01-17","k":82,"kd":78},{"d":"2020-01-22","k":88,"kd":86},{"d":"2020-01-28","k":92,"kd":90},{"d":"2020-01-31","k":57,"kd":75},{"d":"2020-02-04","k":75,"kd":65},{"d":"2020-02-07","k":95,"kd":85},{"d":"2020-02-12","k":96,"kd":95},{"d":"2020-02-18","k":98,"kd":97},{"d":"2020-02-21","k":92,"kd":95},{"d":"2020-02-25","k":55,"kd":75},{"d":"2020-02-28","k":8,"kd":25},{"d":"2020-03-04","k":8,"kd":8},{"d":"2020-03-09","k":5,"kd":7},{"d":"2020-03-12","k":20,"kd":12},{"d":"2020-03-17","k":75,"kd":45},{"d":"2020-03-20","k":92,"kd":85},{"d":"2020-03-24","k":88,"kd":90},{"d":"2020-03-27","k":63,"kd":78},{"d":"2020-04-01","k":40,"kd":50},{"d":"2020-04-06","k":45,"kd":42},{"d":"2020-04-09","k":42,"kd":44},{"d":"2020-04-14","k":30,"kd":36},{"d":"2020-04-17","k":50,"kd":40},{"d":"2020-04-22","k":72,"kd":62},{"d":"2020-04-27","k":60,"kd":65},{"d":"2020-05-01","k":15,"kd":30},{"d":"2020-05-05","k":60,"kd":40},{"d":"2020-05-08","k":55,"kd":58},{"d":"2020-05-13","k":80,"kd":70},{"d":"2020-05-18","k":40,"kd":58},{"d":"2020-05-22","k":45,"kd":42},{"d":"2020-05-27","k":10,"kd":25},{"d":"2020-06-03","k":5,"kd":7}
],
"fib":[
{"v":100.15,"d":"2019-06-04","d2":"2020-07-10","k":"r","t":"0.764(100.15)"},
{"v":97.87,"d":"2019-06-04","d2":"2020-07-10","k":"r","t":"0.618(97.87)"},
{"v":96.0,"d":"2019-06-04","d2":"2020-07-10","k":"r","t":"0.5(96.00)"},
{"v":94.2,"d":"2019-06-04","d2":"2020-07-10","k":"r","t":"0.382(94.20)"},
{"v":102.99,"d":"2020-03-09","d2":"2020-07-10","k":"o","t":"0(102.99)"},
{"v":99.8,"d":"2020-03-09","d2":"2020-07-10","k":"o","t":"0.382(99.80)"},
{"v":97.84,"d":"2020-03-09","d2":"2020-07-10","k":"o","t":"0.618(97.84)"},
{"v":96.43,"d":"2020-03-09","d2":"2020-07-10","k":"o","t":"0.786(96.43)"},
{"v":94.65,"d":"2020-03-09","d2":"2020-07-10","k":"o","t":"1(94.65)"}
],
"tl":[
{"d":"2019-06-04","v":99.02,"d2":"2020-07-10","v2":101.85,"k":"ch"},
{"d":"2020-01-10","v":94.21,"d2":"2020-07-10","v2":95.69,"k":"ch"},
{"d":"2020-03-26","v":100.98,"d2":"2020-07-10","v2":100.49,"k":"wu"},
{"d":"2020-03-26","v":98.27,"d2":"2020-06-22","v2":98.88,"k":"wl"},
{"d":"2020-03-26","v":98.27,"d2":"2020-03-26","v2":100.98,"k":"wl"}
]
},
"vconcat":[
{
"width":593,"height":230,
"layer":[
{"data":{"name":"fib"},"mark":{"type":"rule","strokeWidth":1},
"encoding":{
"x":{"field":"d","type":"temporal","title":null,"scale":{"type":"utc","domain":[{"year":2019,"month":"jun","date":4,"utc":true},{"year":2020,"month":"jul","date":10,"utc":true}]},"axis":{"values":[{"year":2019,"month":"jul","date":1,"utc":true},{"year":2019,"month":"aug","date":1,"utc":true},{"year":2019,"month":"sep","date":1,"utc":true},{"year":2019,"month":"oct","date":1,"utc":true},{"year":2019,"month":"nov","date":1,"utc":true},{"year":2019,"month":"dec","date":1,"utc":true},{"year":2020,"month":"jan","date":1,"utc":true},{"year":2020,"month":"feb","date":1,"utc":true},{"year":2020,"month":"mar","date":1,"utc":true},{"year":2020,"month":"apr","date":1,"utc":true},{"year":2020,"month":"may","date":1,"utc":true},{"year":2020,"month":"jun","date":1,"utc":true},{"year":2020,"month":"jul","date":1,"utc":true}],"tickCount":30,"labels":false,"ticks":false,"domain":false,"grid":true,"title":null,"labelPadding":0,"minExtent":0,"maxExtent":0}},
"x2":{"field":"d2"},
"y":{"field":"v","type":"quantitative","title":null,"scale":{"domain":[94.152,103.444],"nice":false,"zero":false},"axis":{"orient":"right","values":[95,96,98,99,100,101,102,103],"tickCount":30,"format":".2f","grid":true,"ticks":false,"domain":false,"labelPadding":4,"labelOverlap":false,"labelBound":false,"title":null}},
"color":{"field":"k","type":"nominal","scale":{"domain":["r","o"],"range":["#f3a0a0","#f8d0a8"]},"legend":null}}},
{"data":{"name":"fib"},"transform":[{"filter":"datum.k == 'r'"}],"mark":{"type":"text","align":"right","baseline":"middle","dy":-3,"dx":-2,"fontSize":4.5,"color":"#e35b5b"},
"encoding":{"x":{"field":"d2","type":"temporal","title":null},"y":{"field":"v","type":"quantitative","title":null},"text":{"field":"t"}}},
{"data":{"name":"fib"},"transform":[{"filter":"datum.k == 'o'"}],"mark":{"type":"text","align":"right","baseline":"middle","dy":3,"dx":-2,"fontSize":4.5,"color":"#eea46a"},
"encoding":{"x":{"field":"d2","type":"temporal","title":null},"y":{"field":"v","type":"quantitative","title":null},"text":{"field":"t"}}},
{"data":{"name":"ema"},"mark":{"type":"line","strokeWidth":0.9,"color":"#b4d3ee","interpolate":"monotone"},"encoding":{"x":{"field":"d","type":"temporal","title":null},"y":{"field":"e5","type":"quantitative","title":null}}},
{"data":{"name":"ema"},"mark":{"type":"line","strokeWidth":0.9,"color":"#93bde6","interpolate":"monotone"},"encoding":{"x":{"field":"d","type":"temporal","title":null},"y":{"field":"e8","type":"quantitative","title":null}}},
{"data":{"name":"ema"},"mark":{"type":"line","strokeWidth":0.9,"color":"#73a7dc","interpolate":"monotone"},"encoding":{"x":{"field":"d","type":"temporal","title":null},"y":{"field":"e13","type":"quantitative","title":null}}},
{"data":{"name":"ema"},"mark":{"type":"line","strokeWidth":0.9,"color":"#5690cf","interpolate":"monotone"},"encoding":{"x":{"field":"d","type":"temporal","title":null},"y":{"field":"e21","type":"quantitative","title":null}}},
{"data":{"name":"px"},"mark":{"type":"rule","strokeWidth":0.8},"encoding":{"x":{"field":"d","type":"temporal","title":null},"y":{"field":"l","type":"quantitative","title":null},"y2":{"field":"h"},"color":{"condition":{"test":"datum.c >= datum.o","value":"#8f8f8f"},"value":"#111111"}}},
{"data":{"name":"px"},"mark":{"type":"bar","width":1.3},"encoding":{"x":{"field":"d","type":"temporal","title":null},"y":{"field":"o","type":"quantitative","title":null},"y2":{"field":"c"},"color":{"condition":{"test":"datum.c >= datum.o","value":"#8f8f8f"},"value":"#111111"}}},
{"data":{"name":"tl"},"transform":[{"filter":"datum.k == 'ch'"}],"mark":{"type":"rule","color":"#111111","strokeWidth":1.3},"encoding":{"x":{"field":"d","type":"temporal","title":null},"x2":{"field":"d2"},"y":{"field":"v","type":"quantitative","title":null},"y2":{"field":"v2"}}},
{"data":{"name":"tl"},"transform":[{"filter":"datum.k == 'wu'"}],"mark":{"type":"rule","color":"#8c8c8c","strokeWidth":1},"encoding":{"x":{"field":"d","type":"temporal","title":null},"x2":{"field":"d2"},"y":{"field":"v","type":"quantitative","title":null},"y2":{"field":"v2"}}},
{"data":{"name":"tl"},"transform":[{"filter":"datum.k == 'wl'"}],"mark":{"type":"rule","color":"#444444","strokeWidth":0.9},"encoding":{"x":{"field":"d","type":"temporal","title":null},"x2":{"field":"d2"},"y":{"field":"v","type":"quantitative","title":null},"y2":{"field":"v2"}}},
{"data":{"values":[{}]},"mark":{"type":"text","align":"left","baseline":"top","fontSize":4.6,"lineHeight":5,"color":"#6a6d78"},"encoding":{"x":{"datum":{"year":2019,"month":"jun","date":8,"utc":true},"type":"temporal"},"y":{"datum":103.3,"type":"quantitative"},"text":{"value":["U.S. Dollar Currency Index, 1D, TVC","EMA (5, close)","EMA (8, close)","EMA (13, close)","EMA (21, close)"]}}},
{"data":{"values":[{}]},"mark":{"type":"rect","color":"#131722"},"encoding":{"x":{"datum":{"year":2020,"month":"jul","date":11,"utc":true},"type":"temporal"},"x2":{"datum":{"year":2020,"month":"jul","date":27,"utc":true}},"y":{"datum":97.46,"type":"quantitative"},"y2":{"datum":97.1}}},
{"data":{"values":[{}]},"mark":{"type":"rect","color":"#131722"},"encoding":{"x":{"datum":{"year":2020,"month":"jul","date":11,"utc":true},"type":"temporal"},"x2":{"datum":{"year":2020,"month":"jul","date":29,"utc":true}},"y":{"datum":97.02,"type":"quantitative"},"y2":{"datum":96.7}}},
{"data":{"values":[{}]},"mark":{"type":"text","align":"center","baseline":"middle","fontSize":5.5,"color":"#ffffff"},"encoding":{"x":{"datum":{"year":2020,"month":"jul","date":19,"utc":true},"type":"temporal"},"y":{"datum":97.28,"type":"quantitative"},"text":{"value":"97.38"}}},
{"data":{"values":[{}]},"mark":{"type":"text","align":"center","baseline":"middle","fontSize":5.5,"color":"#ffffff"},"encoding":{"x":{"datum":{"year":2020,"month":"jul","date":20,"utc":true},"type":"temporal"},"y":{"datum":96.86,"type":"quantitative"},"text":{"value":"08:52:52"}}}
]
},
{
"width":593,"height":49,
"layer":[
{"data":{"name":"px"},"transform":[{"window":[{"op":"lag","field":"g","as":"pg"}],"sort":[{"field":"d","order":"ascending"}]}],"mark":{"type":"bar","width":1.2},
"encoding":{
"x":{"field":"d","type":"temporal","title":null,"scale":{"type":"utc","domain":[{"year":2019,"month":"jun","date":4,"utc":true},{"year":2020,"month":"jul","date":10,"utc":true}]},"axis":{"values":[{"year":2019,"month":"jul","date":1,"utc":true},{"year":2019,"month":"aug","date":1,"utc":true},{"year":2019,"month":"sep","date":1,"utc":true},{"year":2019,"month":"oct","date":1,"utc":true},{"year":2019,"month":"nov","date":1,"utc":true},{"year":2019,"month":"dec","date":1,"utc":true},{"year":2020,"month":"jan","date":1,"utc":true},{"year":2020,"month":"feb","date":1,"utc":true},{"year":2020,"month":"mar","date":1,"utc":true},{"year":2020,"month":"apr","date":1,"utc":true},{"year":2020,"month":"may","date":1,"utc":true},{"year":2020,"month":"jun","date":1,"utc":true},{"year":2020,"month":"jul","date":1,"utc":true}],"tickCount":30,"labels":false,"ticks":false,"domain":false,"grid":true,"title":null,"labelPadding":0,"minExtent":0,"maxExtent":0}},
"y":{"field":"g","type":"quantitative","title":null,"scale":{"domain":[-0.679,1.071],"nice":false,"zero":false},"axis":{"orient":"right","values":[0,1],"tickCount":30,"format":".2f","grid":true,"ticks":false,"domain":false,"labelPadding":4,"labelOverlap":false,"labelBound":false,"title":null}},
"y2":{"datum":0},
"color":{"condition":[{"test":"datum.g >= 0 && datum.g >= datum.pg","value":"#26a69a"},{"test":"datum.g >= 0","value":"#b2dfdb"},{"test":"datum.g < datum.pg","value":"#ef5350"}],"value":"#ffcdd2"}}},
{"data":{"name":"md"},"mark":{"type":"line","strokeWidth":1.2,"color":"#2196f3","interpolate":"monotone"},"encoding":{"x":{"field":"d","type":"temporal","title":null},"y":{"field":"m","type":"quantitative","title":null}}},
{"data":{"name":"md"},"mark":{"type":"line","strokeWidth":1.2,"color":"#ff6d00","interpolate":"monotone"},"encoding":{"x":{"field":"d","type":"temporal","title":null},"y":{"field":"s","type":"quantitative","title":null}}},
{"data":{"values":[{}]},"mark":{"type":"text","align":"left","baseline":"middle","fontSize":4.6,"color":"#6a6d78"},"encoding":{"x":{"datum":{"year":2019,"month":"jun","date":8,"utc":true},"type":"temporal"},"y":{"datum":0.86,"type":"quantitative"},"text":{"value":"MACD (12, 26, close, 9)"}}}
]
},
{
"width":593,"height":48,
"layer":[
{"data":{"name":"st"},"mark":{"type":"line","strokeWidth":1.2,"color":"#2196f3","interpolate":"monotone"},
"encoding":{
"x":{"field":"d","type":"temporal","title":null,"scale":{"type":"utc","domain":[{"year":2019,"month":"jun","date":4,"utc":true},{"year":2020,"month":"jul","date":10,"utc":true}]},"axis":{"values":[{"year":2019,"month":"jul","date":1,"utc":true},{"year":2019,"month":"aug","date":1,"utc":true},{"year":2019,"month":"sep","date":1,"utc":true},{"year":2019,"month":"oct","date":1,"utc":true},{"year":2019,"month":"nov","date":1,"utc":true},{"year":2019,"month":"dec","date":1,"utc":true},{"year":2020,"month":"jan","date":1,"utc":true},{"year":2020,"month":"feb","date":1,"utc":true},{"year":2020,"month":"mar","date":1,"utc":true},{"year":2020,"month":"apr","date":1,"utc":true},{"year":2020,"month":"may","date":1,"utc":true},{"year":2020,"month":"jun","date":1,"utc":true},{"year":2020,"month":"jul","date":1,"utc":true}],"tickCount":30,"labels":true,"ticks":false,"domain":false,"grid":true,"title":null,"labelPadding":4,"labelFontSize":6.5,"labelOverlap":false,"labelExpr":"utcmonth(datum.value) == 0 ? utcFormat(datum.value, '%Y') : utcFormat(datum.value, '%b')","labelFontWeight":{"condition":{"test":"utcmonth(datum.value) == 0","value":"bold"},"value":"normal"}}},
"y":{"field":"k","type":"quantitative","title":null,"scale":{"domain":[-5.3,106.3],"nice":false,"zero":false},"axis":{"orient":"right","values":[0,40,80],"tickCount":30,"format":".2f","grid":false,"ticks":false,"domain":false,"labelPadding":4,"labelOverlap":false,"labelBound":false,"title":null}}}},
{"data":{"name":"st"},"mark":{"type":"line","strokeWidth":1.2,"color":"#ff6d00","interpolate":"monotone"},"encoding":{"x":{"field":"d","type":"temporal","title":null},"y":{"field":"kd","type":"quantitative","title":null}}},
{"data":{"values":[{}]},"mark":{"type":"rule","strokeDash":[3,3],"color":"#9598a1","strokeWidth":0.8},"encoding":{"y":{"datum":80,"type":"quantitative"}}},
{"data":{"values":[{}]},"mark":{"type":"rule","strokeDash":[3,3],"color":"#9598a1","strokeWidth":0.8},"encoding":{"y":{"datum":20,"type":"quantitative"}}},
{"data":{"values":[{}]},"mark":{"type":"text","align":"left","baseline":"middle","fontSize":4.6,"color":"#6a6d78"},"encoding":{"x":{"datum":{"year":2019,"month":"jun","date":8,"utc":true},"type":"temporal"},"y":{"datum":94,"type":"quantitative"},"text":{"value":"Stoch (14, 3, 3)"}}}
]
}
]
}
